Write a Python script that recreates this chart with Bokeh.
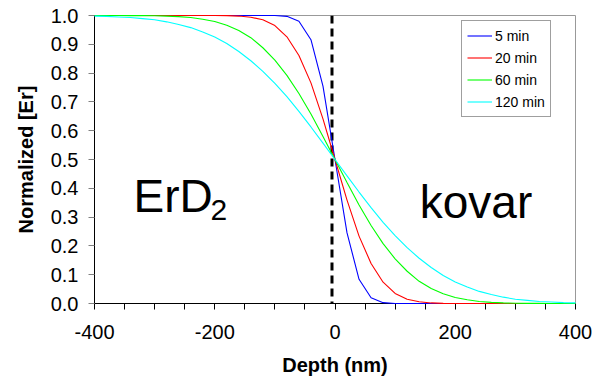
from bokeh.plotting import figure
from bokeh.models import (FixedTicker, NumeralTickFormatter, Span, Label, Legend,
                          LegendItem, ColumnDataSource)
from bokeh.embed import file_html
from bokeh.resources import INLINE

depth_nm = [-400, -380, -360, -340, -320, -300, -280, -260, -240, -220, -200,
            -180, -160, -140, -120, -100, -80, -60, -40, -20, 0,
            20, 40, 60, 80, 100, 120, 140, 160, 180, 200,
            220, 240, 260, 280, 300, 320, 340, 360, 380, 400]

er_5min = [1.0, 1.0, 1.0, 1.0, 1.0, 1.0, 1.0, 1.0, 1.0, 1.0, 1.0,
           1.0, 1.0, 1.0, 1.0, 1.0, 0.997, 0.980, 0.916, 0.755, 0.5,
           0.245, 0.084, 0.020, 0.003, 0.0, 0.0, 0.0, 0.0, 0.0, 0.0,
           0.0, 0.0, 0.0, 0.0, 0.0, 0.0, 0.0, 0.0, 0.0, 0.0]

er_20min = [1.0, 1.0, 1.0, 1.0, 1.0, 1.0, 1.0, 1.0, 1.0, 1.0, 1.0,
            0.9995, 0.998, 0.994, 0.985, 0.965, 0.926, 0.861, 0.766, 0.641, 0.5,
            0.359, 0.234, 0.139, 0.074, 0.035, 0.015, 0.006, 0.002, 0.0005, 0.0,
            0.0, 0.0, 0.0, 0.0, 0.0, 0.0, 0.0, 0.0, 0.0, 0.0]

er_60min = [1.0, 1.0, 0.9999, 0.9997, 0.9994, 0.999, 0.998, 0.996, 0.993, 0.987, 0.979,
            0.966, 0.948, 0.923, 0.888, 0.845, 0.792, 0.729, 0.658, 0.580, 0.5,
            0.420, 0.342, 0.271, 0.208, 0.155, 0.112, 0.077, 0.052, 0.034, 0.021,
            0.013, 0.007, 0.004, 0.002, 0.001, 0.0006, 0.0003, 0.0001, 0.0, 0.0]

er_120min = [0.998, 0.997, 0.995, 0.993, 0.989, 0.985, 0.978, 0.969, 0.958, 0.943, 0.925,
             0.903, 0.875, 0.843, 0.806, 0.764, 0.718, 0.667, 0.613, 0.557, 0.5,
             0.443, 0.387, 0.333, 0.282, 0.236, 0.194, 0.157, 0.125, 0.097, 0.075,
             0.057, 0.042, 0.031, 0.022, 0.015, 0.011, 0.007, 0.005, 0.003, 0.002]

series_names = ["5 min", "20 min", "60 min", "120 min"]
series_values = [er_5min, er_20min, er_60min, er_120min]
series_colors = ["#0000ff", "#ff0000", "#00ff00", "#00ffff"]

x_major_ticks = [-400, -200, 0, 200, 400]
x_minor_ticks = [-350, -300, -250, -150, -100, -50, 50, 100, 150, 250, 300, 350]
y_ticks = [0.0, 0.1, 0.2, 0.3, 0.4, 0.5, 0.6, 0.7, 0.8, 0.9, 1.0]
interface_x = -5

FONT = "Liberation Sans"

p = figure(width=595, height=381, output_backend="svg", toolbar_location=None,
           x_range=(-400, 400), y_range=(0, 1),
           min_border_left=94, min_border_right=20, min_border_top=15,
           min_border_bottom=78)
p.background_fill_color = "white"
p.border_fill_color = "white"
p.outline_line_color = "#999999"
p.outline_line_width = 1
p.grid.visible = False

# x axis
xa = p.xaxis[0]
xa.ticker = FixedTicker(ticks=x_major_ticks, minor_ticks=x_minor_ticks)
xa.formatter = NumeralTickFormatter(format="0")
xa.axis_line_color = "black"
xa.major_tick_line_color = "black"
xa.minor_tick_line_color = "black"
xa.major_tick_in = 0
xa.major_tick_out = 6
xa.minor_tick_in = 0
xa.minor_tick_out = 6
xa.major_label_text_font = FONT
xa.major_label_text_font_size = "20px"
xa.major_label_text_color = "black"
xa.major_label_standoff = 15
xa.axis_label = "Depth (nm)"
xa.axis_label_text_font = FONT
xa.axis_label_text_font_style = "bold"
xa.axis_label_text_font_size = "20px"
xa.axis_label_text_color = "black"
xa.axis_label_standoff = 12

# y axis
ya = p.yaxis[0]
ya.ticker = FixedTicker(ticks=y_ticks)
ya.formatter = NumeralTickFormatter(format="0.0")
ya.axis_line_color = "black"
ya.major_tick_line_color = "#808080"
ya.major_tick_in = 0
ya.major_tick_out = 6
ya.minor_tick_line_color = None
ya.major_label_text_font = FONT
ya.major_label_text_font_size = "20px"
ya.major_label_text_color = "black"
ya.major_label_standoff = 10
ya.axis_label = "Normalized [Er]"
ya.axis_label_text_font = FONT
ya.axis_label_text_font_style = "bold"
ya.axis_label_text_font_size = "20px"
ya.axis_label_text_color = "black"
ya.axis_label_standoff = 11

# interface dashed line
p.add_layout(Span(location=interface_x, dimension="height", line_color="black",
                  line_width=3, line_dash="8 5"))

items = []
for name, vals, col in zip(series_names, series_values, series_colors):
    src = ColumnDataSource(dict(x=depth_nm, y=vals))
    r = p.line("x", "y", source=src, line_color=col, line_width=1.1, level="overlay")
    items.append(LegendItem(label=name, renderers=[r]))

legend = Legend(items=items, location=(367, 186))
legend.label_text_font = FONT
legend.label_text_font_size = "14px"
legend.label_text_color = "black"
legend.label_height = 19
legend.glyph_height = 19
legend.glyph_width = 25
legend.label_standoff = 3
legend.spacing = 3
legend.padding = 5
legend.margin = 0
legend.border_line_color = "#404040"
legend.border_line_width = 1
legend.background_fill_color = "white"
legend.background_fill_alpha = 1
p.add_layout(legend)

p.add_layout(Label(x=-335, y=0.375, text="ErD", text_font=FONT, text_font_size="46px",
                   text_color="black", text_baseline="alphabetic"))
p.add_layout(Label(x=-207, y=0.323, text="2", text_font=FONT, text_font_size="30px",
                   text_color="black", text_baseline="alphabetic"))
p.add_layout(Label(x=141, y=0.351, text="kovar", text_font=FONT, text_font_size="46px",
                   text_color="black", text_baseline="alphabetic"))

open("out.html", "w").write(file_html(p, INLINE))
